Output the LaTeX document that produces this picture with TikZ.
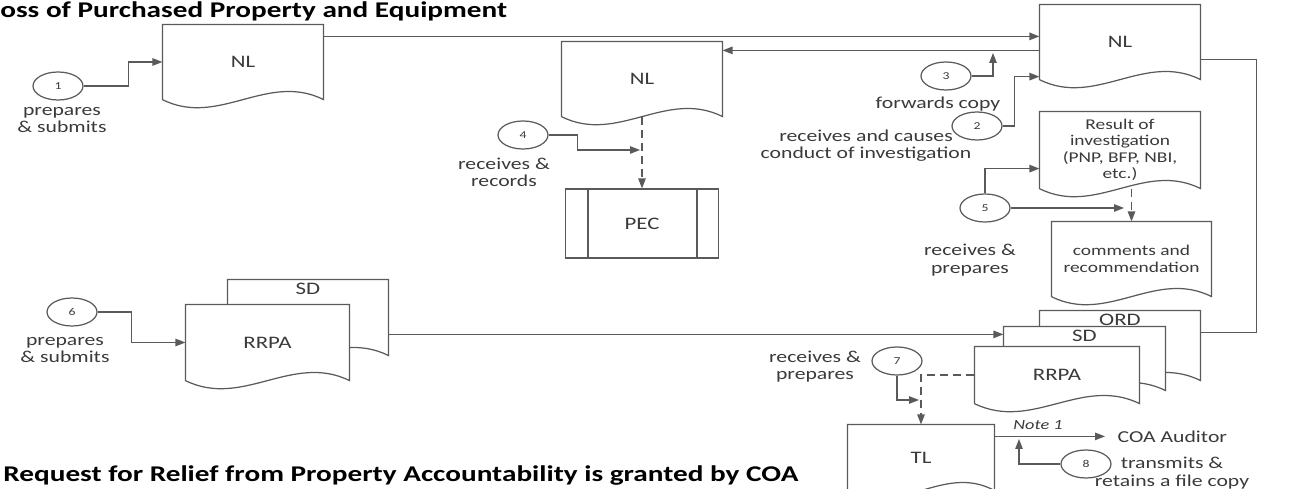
\documentclass[tikz,border=0pt]{standalone}
\usepackage{fontspec}
\setmainfont{Carlito}[FakeStretch=1.3]
\usetikzlibrary{arrows.meta,shapes.geometric,calc}

\definecolor{linegray}{HTML}{5A5A5A}
\definecolor{textgray}{HTML}{3A3A3A}

% flowchart "document" shape: rectangle with a wavy bottom edge
\makeatletter
\pgfdeclareshape{docwave}{%
  \inheritsavedanchors[from=rectangle]
  \inheritanchorborder[from=rectangle]
  \inheritanchor[from=rectangle]{center}
  \inheritanchor[from=rectangle]{north}
  \inheritanchor[from=rectangle]{south}
  \inheritanchor[from=rectangle]{east}
  \inheritanchor[from=rectangle]{west}
  \inheritanchor[from=rectangle]{north east}
  \inheritanchor[from=rectangle]{north west}
  \inheritanchor[from=rectangle]{south east}
  \inheritanchor[from=rectangle]{south west}
  \backgroundpath{%
    \southwest \edef\dw@xa{\the\pgf@x}\edef\dw@ya{\the\pgf@y}%
    \northeast \edef\dw@xb{\the\pgf@x}\edef\dw@yb{\the\pgf@y}%
    \pgf@x=\dw@xb \advance\pgf@x by -\dw@xa \pgf@x=0.35\pgf@x \edef\dw@dx{\the\pgf@x}%
    \pgf@x=\dw@xb \advance\pgf@x by -\dw@dx \edef\dw@cr{\the\pgf@x}%
    \pgf@x=\dw@xa \advance\pgf@x by \dw@dx \edef\dw@cl{\the\pgf@x}%
    \pgf@y=\dw@ya \advance\pgf@y by 16pt \edef\dw@up{\the\pgf@y}%
    \pgf@y=\dw@ya \advance\pgf@y by -16pt \edef\dw@dn{\the\pgf@y}%
    \pgfpathmoveto{\pgfqpoint{\dw@xa}{\dw@ya}}%
    \pgfpathlineto{\pgfqpoint{\dw@xa}{\dw@yb}}%
    \pgfpathlineto{\pgfqpoint{\dw@xb}{\dw@yb}}%
    \pgfpathlineto{\pgfqpoint{\dw@xb}{\dw@ya}}%
    \pgfpathcurveto{\pgfqpoint{\dw@cr}{\dw@up}}{\pgfqpoint{\dw@cl}{\dw@dn}}{\pgfqpoint{\dw@xa}{\dw@ya}}%
    \pgfpathclose
  }%
}
\makeatother

\begin{document}
\begin{tikzpicture}
 [x=0.02cm, y=-0.02cm,
  flow/.style={draw=linegray, line width=0.7pt, -{Triangle[length=0.2cm,width=0.15cm]}},
  dflow/.style={flow, dash pattern=on 0.16cm off 0.1cm},
  link/.style={draw=linegray, line width=0.7pt},
  doc/.style={docwave, draw=linegray, fill=white, line width=0.7pt, text=textgray, font=\fontsize{10}{11}\selectfont, align=center, inner sep=0pt},
  smalldoc/.style={doc, font=\fontsize{8.5}{9.4}\selectfont},
  toplab/.style={anchor=north, text=textgray, font=\fontsize{10}{11}\selectfont, inner sep=2pt},
  proc/.style={draw=linegray, line width=0.7pt, text=textgray, font=\fontsize{10}{11}\selectfont, minimum width=3.06cm, minimum height=1.38cm, inner sep=0pt},
  circ/.style={ellipse, draw=linegray, line width=0.7pt, minimum width=1cm, minimum height=0.56cm, inner sep=0pt, text=textgray, font=\fontsize{6}{6}\selectfont},
  lab/.style={align=center, text=textgray, font=\fontsize{9.5}{9.8}\selectfont, inner sep=0pt},
  heading/.style={font=\bfseries\fontsize{12.8}{13}\selectfont, text=black, inner sep=0pt}]

\useasboundingbox (0,0) rectangle (1299,489);
\clip (0,0) rectangle (1299,489);

% headings
\node[heading, anchor=west] (head1) at (0,11) {oss of Purchased Property and Equipment};
\node[heading, anchor=base west] (head2) at (3,482) {Request for Relief from Property Accountability is granted by COA};

% documents
\node[doc, minimum width=3.2cm, minimum height=1.48cm] (nl1) at (243,62) {NL};
\node[doc, minimum width=3.2cm, minimum height=1.48cm] (nl2) at (642,79) {NL};
\node[doc, minimum width=3.2cm, minimum height=1.48cm] (nl3) at (1120,42) {NL};
\node[proc] (pec) at (642,223.5) {PEC};
\draw[link] ([xshift=0.46cm]pec.north west) -- ([xshift=0.46cm]pec.south west)
            ([xshift=-0.44cm]pec.north east) -- ([xshift=-0.44cm]pec.south east);
\node[smalldoc, minimum width=3.2cm, minimum height=1.52cm] (result) at (1120,150) {Result of\\investigation\\(PNP, BFP, NBI,\\etc.)};
\node[smalldoc, minimum width=3.18cm, minimum height=1.48cm] (comments) at (1131.5,259) {comments and\\recommendation};

% copies in stacks, back to front
\node[doc, minimum width=3.2cm, minimum height=1.38cm, label={[toplab]north:ORD}] (ord) at (1120,345.5) {};
\node[doc, minimum width=3.22cm, minimum height=1.26cm, label={[toplab]north:SD}] (sdr) at (1084.5,358.5) {};
\node[doc, minimum width=3.28cm, minimum height=1.12cm] (rrpar) at (1057,375) {RRPA};
\node[doc, minimum width=3.2cm, minimum height=1.5cm, label={[toplab]north:SD}] (sdl) at (308,317.5) {};
\node[doc, minimum width=3.26cm, minimum height=1.5cm] (rrpal) at (267.5,342.5) {RRPA};
\node[doc, minimum width=2.92cm, minimum height=1.3cm] (tl) at (921,457.5) {TL};

% steps
\node[circ] (c1) at (58,86) {1};
\node[circ] (c2) at (977,126) {2};
\node[circ] (c3) at (946,76) {3};
\node[circ] (c4) at (523,135) {4};
\node[circ] (c5) at (985,208) {5};
\node[circ] (c6) at (72,312) {6};
\node[circ] (c7) at (897,361) {7};
\node[circ] (c8) at (1086,464) {8};

\node[lab] (t1) at (62,120) {prepares\\\& submits};
\node[lab] (t2) at (866,145.5) {receives and causes\\conduct of investigation};
\node[lab] (t3) at (938,104) {forwards copy};
\node[lab] (t4) at (504,172) {receives \&\\records};
\node[lab] (t5) at (970,260) {receives \&\\prepares};
\node[lab] (t6) at (65,350) {prepares\\\& submits};
\node[lab] (t7) at (815,366.5) {receives \&\\prepares};
\node[lab] (t8) at (1172,473) {transmits \&\\retains a file copy};
\node[lab, font=\itshape\fontsize{8}{8}\selectfont] (note) at (1038,425) {Note 1};
\node[lab, anchor=west, inner xsep=7pt] (coa) at (1105,437) {COA Auditor};

% junction tips
\coordinate (j3) at (993,53);
\coordinate (j4) at (640,150);
\coordinate (j5) at (1124,208);
\coordinate (j7) at (919,400);
\coordinate (j8) at (1019,439);

% connectors
\draw[flow] (c1.east) -- ++(45,0) |- (nl1.west);
\draw[flow] ($(nl1.north east)+(0,12)$) coordinate (top1) -- (top1 -| nl3.west);
\path ($(nl2.north east)+(0,9)$) coordinate (top2);
\draw[flow] (top2 -| nl3.west) -- (top2);
\draw[flow] (c3.east) -| (j3);
\draw[flow] (c2.east) -- ++(12,0) |- ($(nl3.south west)+(0,-3)$);
\draw[flow] (c4.east) -- ++(29,0) |- (j4);
\draw[dflow] (nl2.south) -- (pec.north);
\draw[flow] (c5.north) |- ($(result.south west)+(0,-20)$);
\draw[flow] (c5.east) -- (j5);
\draw[dflow] (comments.north |- result.south) -- (comments.north);
\draw[link] ($(nl3.north east)+(0,55)$) -- ++(56,0) |- ($(ord.north east)+(0,22)$);
\draw[flow] ($(sdl.north east)+(0,55)$) coordinate (mid6) -- (mid6 -| sdr.west);
\draw[flow] (c6.east) -- ++(34,0) |- (rrpal.west);
\draw[dflow] (rrpar.west) -| (tl.north);
\draw[flow] (c7.south) |- (j7);
\draw[flow] ($(tl.north east)+(0,12)$) coordinate (out8) -- (out8 -| coa.west);
\draw[flow] (c8.west) -| (j8);

\end{tikzpicture}
\end{document}
